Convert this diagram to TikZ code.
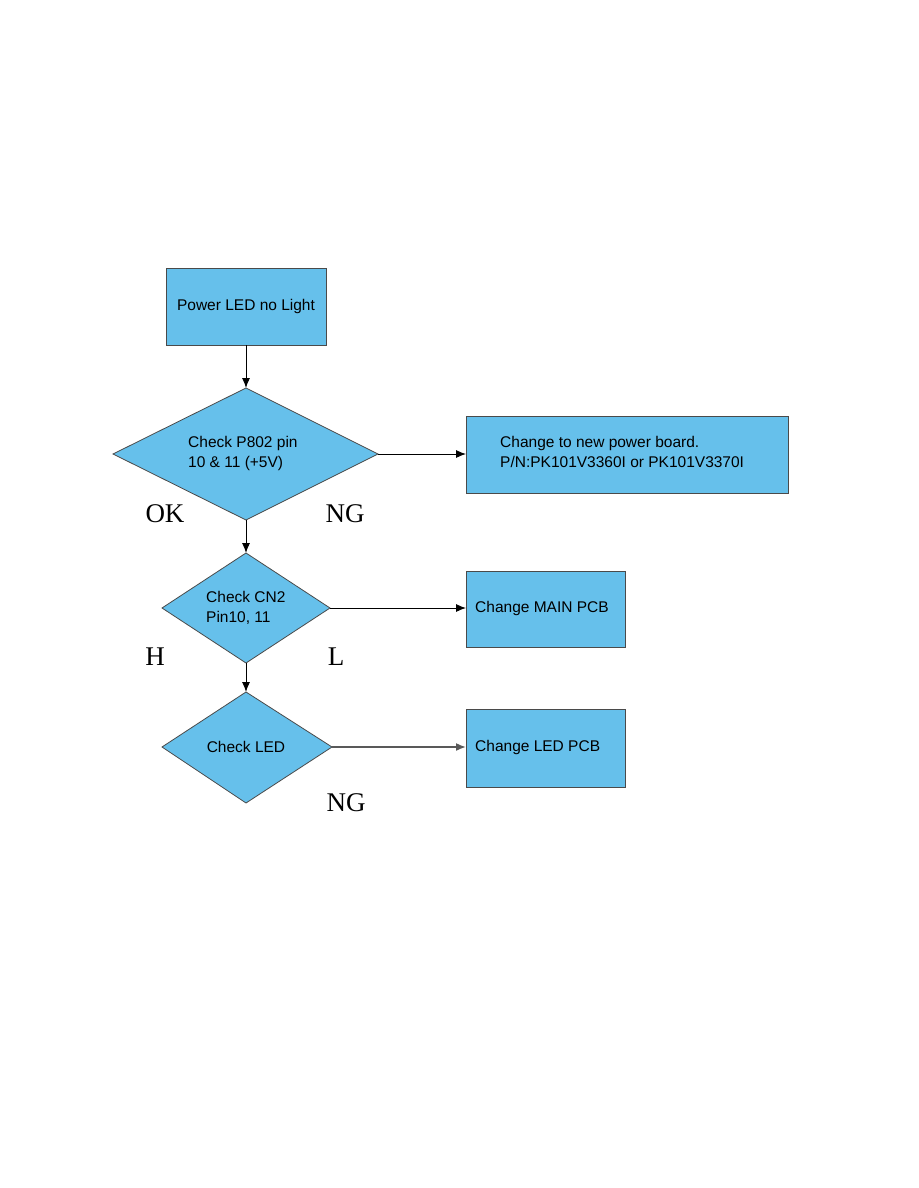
\documentclass[tikz,border=0pt]{standalone}
\usepackage{fontspec}
\setmainfont{Liberation Sans}
\newfontfamily\serifl{Liberation Serif}
\usetikzlibrary{shapes.geometric,arrows.meta}
\definecolor{boxblue}{HTML}{66C0EB}
\definecolor{edgegray}{HTML}{4A4A4A}
\begin{document}
\begin{tikzpicture}[x=1pt,y=-1pt,
  every node/.style={font=\fontsize{15.5}{20}\selectfont, inner sep=0pt},
  procbox/.style={draw=edgegray, line width=1pt, fill=boxblue},
  decision/.style={draw=edgegray, line width=0.8pt, fill=boxblue},
  flow/.style={-{Latex[length=10pt,width=8pt]}, line width=0.9pt, black},
  lbl/.style={font=\serifl\fontsize{27}{27}\selectfont}]
\useasboundingbox (0,0) rectangle (918,1188);
% boxes
\draw[procbox] (166,268) rectangle (326,345);
\node (b1) at (246,306.5) {Power LED no Light};
\coordinate (b1s) at (246,345);
% diamond 1
\draw[decision] (246,388) -- (378,454) -- (246,520) -- (113,454) -- cycle;
\coordinate (d1n) at (246,388);
\coordinate (d1e) at (378,454);
\coordinate (d1s) at (246,520);
\node[align=left, anchor=west] (d1) at (188,453) {Check P802 pin\\10 \& 11 (+5V)};
% box 2
\draw[procbox] (466,416) rectangle (788,493);
\coordinate (b2w) at (466,454);
\node[align=left, anchor=west] (b2) at (500,452) {Change to new power board.\\P/N:PK101V3360I or PK101V3370I};
% diamond 2
\draw[decision] (246,553) -- (330,608) -- (246,663) -- (162,608) -- cycle;
\coordinate (d2n) at (246,553);
\coordinate (d2e) at (330,608);
\coordinate (d2s) at (246,663);
\node[align=left, anchor=west] (d2) at (206,608) {Check CN2\\Pin10, 11};
% box 3
\draw[procbox] (466,571) rectangle (625,647);
\coordinate (b3w) at (466,608);
\node[anchor=west] (b3) at (475,608) {Change MAIN PCB};
% diamond 3
\draw[decision] (246,692) -- (332,747) -- (246,803) -- (162,747) -- cycle;
\coordinate (d3n) at (246,692);
\coordinate (d3e) at (332,747);
\node (d3) at (246,747) {Check LED};
% box 4
\draw[procbox] (466,709) rectangle (625,787);
\coordinate (b4w) at (466,747);
\node[anchor=west] (b4) at (475,747) {Change LED PCB};
% connectors
\draw[flow] (b1s) -- (d1n);
\draw[flow] (d1e) -- (b2w);
\draw[flow] (d1s) -- (d2n);
\draw[flow] (d2e) -- (b3w);
\draw[flow] (d2s) -- (d3n);
\draw[flow, draw=gray!70!black, line width=1.6pt] (d3e) -- (b4w);
% labels
\node[lbl] (ok) at (165,514) {OK};
\node[lbl] (ng1) at (345,514) {NG};
\node[lbl] (h) at (155,657) {H};
\node[lbl] (l) at (336,657) {L};
\node[lbl] (ng2) at (346,803) {NG};
\end{tikzpicture}
\end{document}
